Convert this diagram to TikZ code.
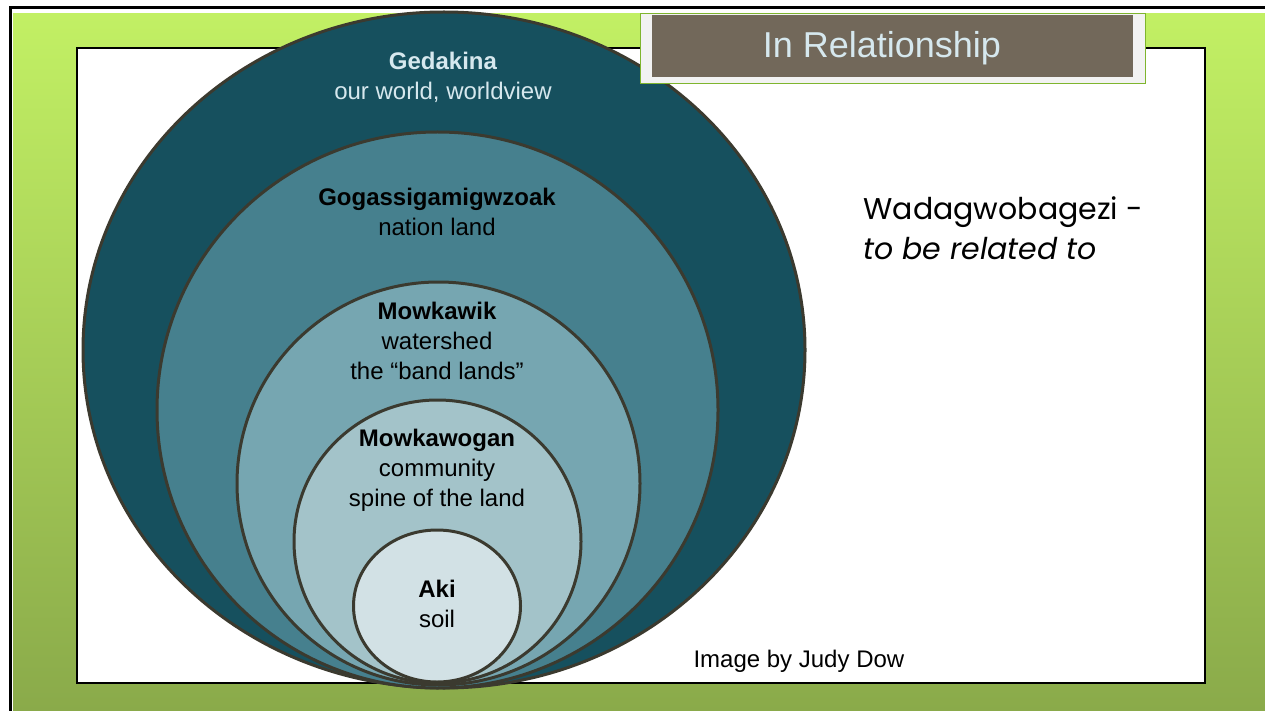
\documentclass[tikz,border=0pt]{standalone}
\usepackage{fontspec}
\setmainfont{Liberation Sans}
\newfontfamily\gothicfont{Poppins}
\usetikzlibrary{shapes.geometric}

\definecolor{limetop}{HTML}{C2F064}
\definecolor{limebot}{HTML}{8AAA4A}
\definecolor{tealA}{HTML}{16505E}
\definecolor{tealB}{HTML}{46808E}
\definecolor{tealC}{HTML}{76A6B1}
\definecolor{tealD}{HTML}{A3C3C9}
\definecolor{tealE}{HTML}{D2E1E5}
\definecolor{ringline}{HTML}{3B3A2F}
\definecolor{paletext}{HTML}{D6E8EE}
\definecolor{bannerbrown}{HTML}{72685A}
\definecolor{bannergreen}{HTML}{7FB52E}

\begin{document}
\begin{tikzpicture}[x=1pt, y=-1pt,
      ring/.style = {draw=ringline, line width=3pt, ellipse, inner sep=0pt},
      ringtext/.style = {align=center, font=\fontsize{24}{30}\selectfont},
      note/.style = {anchor=west, align=left}]
    \useasboundingbox (0,0) rectangle (1265,711);

    % frame
    \fill[white] (0,0) rectangle (1265,711);
    \fill[top color=limetop, bottom color=limebot] (13,14) rectangle (1265,711);
    \draw[line width=3pt] (10.5,711) -- (10.5,7.5) -- (1265,7.5);
    \node[draw, line width=1.5pt, fill=white, minimum width=1128pt, minimum height=635pt,
          inner sep=0pt] (panel) at (641,365.5) {};

    % nested rings
    \node[ring, fill=tealA, minimum width=722pt, minimum height=676pt] (gedakina) at (444,350) {};
    \node[ring, fill=tealB, minimum width=561pt, minimum height=556pt] (nation) at (437.5,410) {};
    \node[ring, fill=tealC, minimum width=403pt, minimum height=403pt] (watershed) at (438.5,483.5) {};
    \node[ring, fill=tealD, minimum width=287pt, minimum height=283pt] (community) at (437.5,541.5) {};
    \node[ring, fill=tealE, minimum width=167pt, minimum height=152pt] (aki) at (437,606) {};

    % ring labels
    \node[ringtext, text=paletext] (gedakinatext) at (443,77) {\textbf{Gedakina}\\our world, worldview};
    \node[ringtext] (nationtext) at (437,212) {\textbf{Gogassigamigwzoak}\\nation land};
    \node[ringtext] (watershedtext) at (437,341) {\textbf{Mowkawik}\\watershed\\the “band lands”};
    \node[ringtext] (communitytext) at (437,470) {\textbf{Mowkawogan}\\community\\spine of the land};
    \node[ringtext] (akitext) at (437,604) {\textbf{Aki}\\soil};

    % banner
    \node[fill=black!5, draw=bannergreen, line width=1pt, minimum width=505pt, minimum height=70pt,
          inner sep=0pt] (banner) at (892.5,49) {};
    \node[fill=bannerbrown, minimum width=481pt, minimum height=62pt, inner sep=0pt]
          (bannerin) at (892.5,46) {};
    \node[text=paletext, font=\fontsize{36}{40}\selectfont] (title) at (882,48) {In Relationship};

    % side notes
    \node[note, font=\gothicfont\fontsize{30}{40}\selectfont] (wadag) at (860,228)
          {Wadagwobagezi -\\\textit{to be related to}};
    \node[note, font=\fontsize{24}{28}\selectfont] (credit) at (690,661) {Image by Judy Dow};

  \end{tikzpicture}
\end{document}
